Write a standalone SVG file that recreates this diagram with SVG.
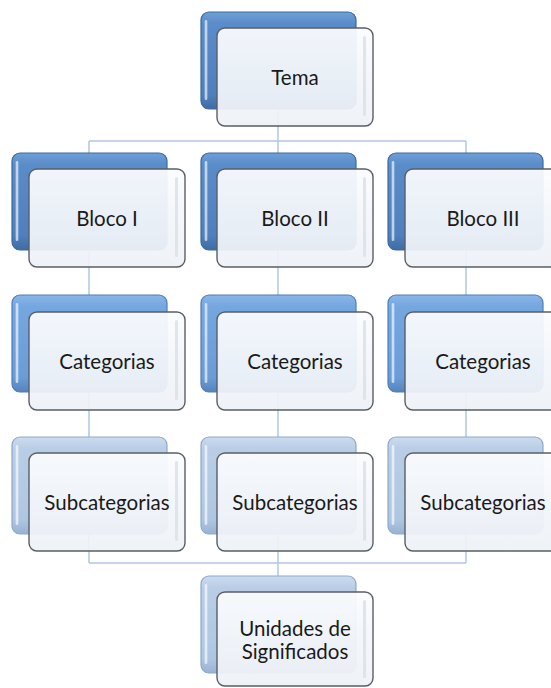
<svg xmlns="http://www.w3.org/2000/svg" width="551" height="688" viewBox="0 0 551 688">
<defs>
  <linearGradient id="gDark" x1="0" y1="0" x2="0" y2="1">
    <stop offset="0" stop-color="#6f9fd6"/>
    <stop offset="0.12" stop-color="#5a8cc9"/>
    <stop offset="0.85" stop-color="#4f80bd"/>
    <stop offset="1" stop-color="#3f6ba3"/>
  </linearGradient>
  <linearGradient id="gMid" x1="0" y1="0" x2="0" y2="1">
    <stop offset="0" stop-color="#8cb6e8"/>
    <stop offset="0.12" stop-color="#74a6e0"/>
    <stop offset="0.85" stop-color="#6a9cd8"/>
    <stop offset="1" stop-color="#5683bc"/>
  </linearGradient>
  <linearGradient id="gLight" x1="0" y1="0" x2="0" y2="1">
    <stop offset="0" stop-color="#cddcee"/>
    <stop offset="0.12" stop-color="#b9cde6"/>
    <stop offset="0.85" stop-color="#afc6e2"/>
    <stop offset="1" stop-color="#98b2d2"/>
  </linearGradient>
  <linearGradient id="gFront" x1="0" y1="0" x2="0" y2="1">
    <stop offset="0" stop-color="#fbfcfe"/>
    <stop offset="0.5" stop-color="#f3f6fa"/>
    <stop offset="1" stop-color="#eef1f6"/>
  </linearGradient>
  <linearGradient id="gShine" x1="0" y1="0" x2="1" y2="0">
    <stop offset="0" stop-color="#ffffff" stop-opacity="0"/>
    <stop offset="0.5" stop-color="#ffffff" stop-opacity="0.85"/>
    <stop offset="1" stop-color="#ffffff" stop-opacity="0"/>
  </linearGradient>
</defs>
<style>
  .conn { fill: none; stroke: #b3c8e2; stroke-width: 1.5; }
  .back { stroke-width: 1.2; }
  .bDark { fill: url(#gDark); stroke: #3d6aa1; }
  .bMid { fill: url(#gMid); stroke: #4f7fb8; }
  .bLight { fill: url(#gLight); stroke: #8ea9cb; }
  .hl { fill: url(#gShine); }
  .front { fill: url(#gFront); fill-opacity: 0.94; stroke: #5a5f66; stroke-width: 1.4; }
  .rstripe { fill: #dde2e8; opacity: 0.9; }
  .lbl { font-family: Lato, "Liberation Sans", sans-serif; font-size: 20.5px; fill: #1a1a1a; text-anchor: middle; dominant-baseline: central; }
</style>

<g id="connectors">
  <path class="conn" d="M278 110 V141 M89 141 H466 M89 141 V563 M278 141 V563 M466 141 V563 M89 563 H466 M278 563 V576"/>
</g>

<g id="tema">
  <rect class="back bDark" x="201" y="12" width="155" height="97" rx="8"/>
  <rect class="hl" x="204" y="20" width="4" height="80" rx="2"/>
  <rect class="front" x="217" y="28" width="156" height="98" rx="8"/>
  <rect class="rstripe" x="363" y="36" width="3" height="80" rx="1.5"/>
  <text class="lbl" x="295" y="77">Tema</text>
</g>

<g id="bloco1">
  <rect class="back bDark" x="12" y="153" width="155" height="97" rx="8"/>
  <rect class="hl" x="15" y="161" width="4" height="80" rx="2"/>
  <rect class="front" x="29" y="169" width="156" height="98" rx="8"/>
  <rect class="rstripe" x="175" y="177" width="3" height="80" rx="1.5"/>
  <text class="lbl" x="107" y="218">Bloco I</text>
</g>
<g id="bloco2">
  <rect class="back bDark" x="201" y="153" width="155" height="97" rx="8"/>
  <rect class="hl" x="204" y="161" width="4" height="80" rx="2"/>
  <rect class="front" x="217" y="169" width="156" height="98" rx="8"/>
  <rect class="rstripe" x="363" y="177" width="3" height="80" rx="1.5"/>
  <text class="lbl" x="295" y="218">Bloco II</text>
</g>
<g id="bloco3">
  <rect class="back bDark" x="388" y="153" width="155" height="97" rx="8"/>
  <rect class="hl" x="391" y="161" width="4" height="80" rx="2"/>
  <rect class="front" x="405" y="169" width="156" height="98" rx="8"/>
  <text class="lbl" x="483" y="218">Bloco III</text>
</g>

<g id="cat1">
  <rect class="back bMid" x="12" y="295" width="155" height="97" rx="8"/>
  <rect class="hl" x="15" y="303" width="4" height="80" rx="2"/>
  <rect class="front" x="29" y="312" width="156" height="98" rx="8"/>
  <rect class="rstripe" x="175" y="320" width="3" height="80" rx="1.5"/>
  <text class="lbl" x="107" y="361">Categorias</text>
</g>
<g id="cat2">
  <rect class="back bMid" x="201" y="295" width="155" height="97" rx="8"/>
  <rect class="hl" x="204" y="303" width="4" height="80" rx="2"/>
  <rect class="front" x="217" y="312" width="156" height="98" rx="8"/>
  <rect class="rstripe" x="363" y="320" width="3" height="80" rx="1.5"/>
  <text class="lbl" x="295" y="361">Categorias</text>
</g>
<g id="cat3">
  <rect class="back bMid" x="388" y="295" width="155" height="97" rx="8"/>
  <rect class="hl" x="391" y="303" width="4" height="80" rx="2"/>
  <rect class="front" x="405" y="312" width="156" height="98" rx="8"/>
  <text class="lbl" x="483" y="361">Categorias</text>
</g>

<g id="sub1">
  <rect class="back bLight" x="12" y="437" width="155" height="97" rx="8"/>
  <rect class="hl" x="15" y="445" width="4" height="80" rx="2"/>
  <rect class="front" x="29" y="453" width="156" height="98" rx="8"/>
  <rect class="rstripe" x="175" y="461" width="3" height="80" rx="1.5"/>
  <text class="lbl" x="107" y="502">Subcategorias</text>
</g>
<g id="sub2">
  <rect class="back bLight" x="201" y="437" width="155" height="97" rx="8"/>
  <rect class="hl" x="204" y="445" width="4" height="80" rx="2"/>
  <rect class="front" x="217" y="453" width="156" height="98" rx="8"/>
  <rect class="rstripe" x="363" y="461" width="3" height="80" rx="1.5"/>
  <text class="lbl" x="295" y="502">Subcategorias</text>
</g>
<g id="sub3">
  <rect class="back bLight" x="388" y="437" width="155" height="97" rx="8"/>
  <rect class="hl" x="391" y="445" width="4" height="80" rx="2"/>
  <rect class="front" x="405" y="453" width="156" height="98" rx="8"/>
  <text class="lbl" x="483" y="502">Subcategorias</text>
</g>

<g id="unidades">
  <rect class="back bLight" x="201" y="576" width="155" height="97" rx="8"/>
  <rect class="hl" x="204" y="584" width="4" height="80" rx="2"/>
  <rect class="front" x="217" y="592" width="156" height="94" rx="8"/>
  <rect class="rstripe" x="363" y="600" width="3" height="78" rx="1.5"/>
  <text class="lbl" x="295" y="628">Unidades de</text>
  <text class="lbl" x="295" y="651">Significados</text>
</g>
</svg>
